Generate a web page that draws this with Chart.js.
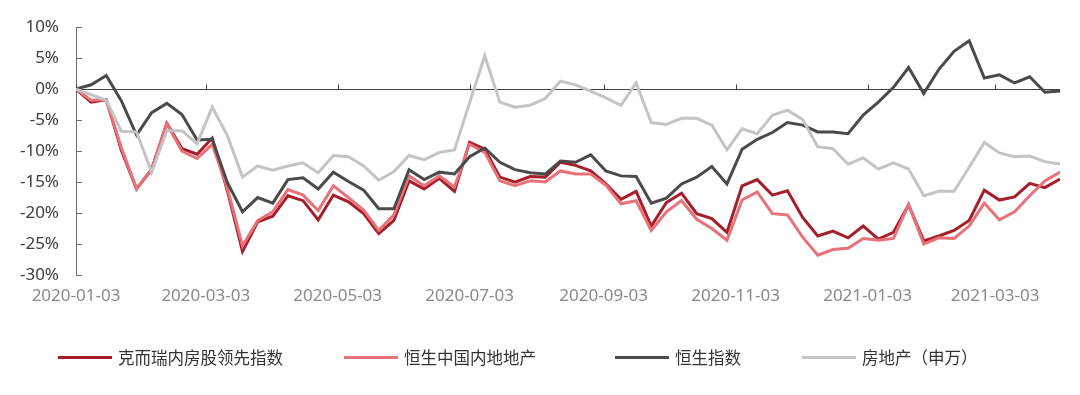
<!DOCTYPE html>
<html>
<head>
<meta charset="utf-8">
<script src="https://cdn.jsdelivr.net/npm/chart.js@4.4.1/dist/chart.umd.min.js"></script>
<style>
  html, body { margin: 0; padding: 0; background: #fff; }
  #wrap { position: relative; width: 1080px; height: 395px; overflow: hidden; }
  #chart { position: absolute; left: 0; top: 0; }
  .lg-item { position: absolute; top: 345px; height: 24px; display: flex; align-items: center;
             font-family: "Noto Sans CJK SC", "Noto Sans", sans-serif; font-size: 16.5px; color: #333; white-space: nowrap; }
  .lg-swatch { width: 54px; height: 3px; margin-right: 6px; }
  .lg-item:nth-child(1) { left: 58px; }
  .lg-item:nth-child(2) { left: 344px; }
  .lg-item:nth-child(3) { left: 615px; }
  .lg-item:nth-child(4) { left: 802px; }
</style>
</head>
<body>
<div id="wrap">
  <canvas id="chart" width="1080" height="395"></canvas>
  <div id="legend"></div>
</div>
<script>
// ---- data ----
const dates = [
  '2020-01-03','2020-01-10','2020-01-17','2020-01-24','2020-01-31','2020-02-07','2020-02-14','2020-02-21','2020-02-28',
  '2020-03-06','2020-03-13','2020-03-20','2020-03-27','2020-04-03','2020-04-10','2020-04-17','2020-04-24',
  '2020-05-01','2020-05-08','2020-05-15','2020-05-22','2020-05-29','2020-06-05','2020-06-12','2020-06-19','2020-06-26',
  '2020-07-03','2020-07-10','2020-07-17','2020-07-24','2020-07-31','2020-08-07','2020-08-14','2020-08-21','2020-08-28',
  '2020-09-04','2020-09-11','2020-09-18','2020-09-25','2020-10-02','2020-10-09','2020-10-16','2020-10-23','2020-10-30',
  '2020-11-06','2020-11-13','2020-11-20','2020-11-27','2020-12-04','2020-12-11','2020-12-18','2020-12-25',
  '2021-01-01','2021-01-08','2021-01-15','2021-01-22','2021-01-29','2021-02-05','2021-02-12','2021-02-19','2021-02-26',
  '2021-03-05','2021-03-12','2021-03-19','2021-03-26','2021-04-02'
];
const tickLabels = ['2020-01-03','2020-03-03','2020-05-03','2020-07-03','2020-09-03','2020-11-03','2021-01-03','2021-03-03'];
const yTicks = [10, 5, 0, -5, -10, -15, -20, -25, -30];
const seriesNames = ['克而瑞内房股领先指数', '恒生中国内地地产', '恒生指数', '房地产（申万）'];

const creLeading = [0,-2.1,-1.7,-9.9,-16.1,-12.9,-5.5,-9.6,-10.5,-7.9,-16.4,-26.2,-21.4,-20.5,-17.2,-18.0,-21.1,-17.1,-18.2,-20.1,
  -23.3,-21.2,-14.8,-16.1,-14.4,-16.5,-8.6,-9.7,-14.2,-15.0,-14.1,-14.2,-11.8,-12.3,-13.2,-15.3,-17.8,-16.5,-22.1,-18.3,
  -16.8,-20.1,-20.9,-23.1,-15.6,-14.6,-17.1,-16.4,-20.7,-23.7,-22.9,-24.0,-22.1,-24.2,-23.1,-18.7,-24.5,-23.7,-22.8,-21.2,
  -16.3,-17.9,-17.4,-15.2,-15.9,-14.5];
const hsMainlandProp = [0,-1.8,-1.7,-9.5,-16.1,-13.0,-5.6,-10.0,-11.2,-8.9,-16.0,-25.3,-21.2,-19.8,-16.2,-17.1,-19.6,-15.6,-17.5,-19.5,
  -22.8,-20.3,-14.0,-15.6,-14.0,-15.8,-8.9,-10.2,-14.8,-15.6,-14.8,-15.0,-13.2,-13.7,-13.7,-15.5,-18.5,-18.0,-22.8,-19.8,
  -18.0,-21.0,-22.5,-24.4,-17.9,-16.6,-20.1,-20.3,-23.9,-26.8,-25.9,-25.7,-24.1,-24.4,-24.1,-18.6,-25.0,-24.0,-24.1,-22.1,
  -18.4,-21.1,-19.8,-17.2,-14.8,-13.4];
const hsi = [0,0.7,2.2,-1.9,-7.4,-3.8,-2.3,-4.1,-8.2,-8.1,-15.1,-19.8,-17.5,-18.4,-14.6,-14.3,-16.1,-13.4,-14.9,-16.3,
  -19.3,-19.3,-13.0,-14.6,-13.4,-13.7,-10.9,-9.5,-11.8,-13.0,-13.5,-13.7,-11.6,-11.8,-10.6,-13.2,-14.0,-14.1,-18.4,-17.6,
  -15.3,-14.2,-12.5,-15.3,-9.7,-8.1,-7.0,-5.4,-5.8,-6.9,-6.9,-7.2,-4.2,-2.1,0.3,3.5,-0.7,3.2,6.1,7.8,
  1.8,2.3,1.0,2.0,-0.5,-0.3];
const swProperty = [0,-0.9,-1.8,-6.8,-6.9,-13.4,-6.7,-6.7,-8.8,-2.9,-7.5,-14.2,-12.4,-13.1,-12.4,-11.9,-13.5,-10.7,-10.9,-12.4,
  -14.7,-13.3,-10.7,-11.4,-10.2,-9.8,-2.2,5.4,-2.1,-2.9,-2.6,-1.5,1.3,0.7,-0.3,-1.4,-2.6,1.0,-5.4,-5.7,
  -4.7,-4.7,-5.8,-9.8,-6.4,-7.2,-4.2,-3.4,-4.9,-9.3,-9.6,-12.1,-11.1,-12.9,-11.9,-12.9,-17.2,-16.5,-16.5,-12.6,
  -8.6,-10.3,-10.9,-10.8,-11.7,-12.1];

// ---- helpers ----
const DAY = 86400000;
const t0 = Date.parse(dates[0]);
const dayOf = d => Math.round((Date.parse(d) - t0) / DAY);
const toPoints = vals => vals.map((v, i) => ({ x: dayOf(dates[i]), y: v }));

const colors = ['#A51E2A', '#E8727A', '#4A4A4A', '#C4C4C4'];
const seriesValues = [creLeading, hsMainlandProp, hsi, swProperty];

const datasets = seriesNames.map((name, k) => ({
  label: name,
  data: toPoints(seriesValues[k]),
  borderColor: colors[k],
  backgroundColor: colors[k],
  borderWidth: 3,
  pointRadius: 0,
  tension: 0,
  fill: false,
  order: 4 - k,
  borderJoinStyle: 'miter'
}));

const axisMarks = {
  id: 'axisMarks',
  beforeDatasetsDraw(chart) {
    const { ctx, chartArea, scales } = chart;
    const xs = scales.x, ys = scales.y;
    const y0 = Math.round(ys.getPixelForValue(0)) + 0.5;
    ctx.save();
    ctx.strokeStyle = '#404040';
    ctx.lineWidth = 1;
    ctx.beginPath();
    ctx.moveTo(chartArea.left, y0);
    ctx.lineTo(chartArea.right, y0);
    xs.ticks.forEach(t => {
      const px = Math.round(xs.getPixelForValue(t.value)) + 0.5;
      ctx.moveTo(px, y0);
      ctx.lineTo(px, y0 - 5);
    });
    ctx.stroke();
    ctx.strokeStyle = '#6b6b6b';
    ctx.beginPath();
    ys.ticks.forEach(t => {
      const py = Math.round(ys.getPixelForValue(t.value)) + 0.5;
      ctx.moveTo(chartArea.left, py);
      ctx.lineTo(chartArea.left + 6, py);
    });
    ctx.stroke();
    ctx.restore();
  }
};

const chart = new Chart(document.getElementById('chart'), {
  type: 'line',
  data: { datasets },
  options: {
    responsive: false,
    animation: false,
    layout: { padding: { top: 26, right: 20, left: 0, bottom: 0 } },
    plugins: { legend: { display: false }, tooltip: { enabled: false } },
    scales: {
      x: {
        type: 'linear',
        min: 0,
        max: dayOf(dates[dates.length - 1]),
        afterBuildTicks: s => { s.ticks = tickLabels.map(t => ({ value: dayOf(t) })); },
        afterFit: s => { s.height = 120; },
        border: { display: false },
        grid: { display: false, drawTicks: false },
        ticks: {
          autoSkip: false, maxRotation: 0, padding: 11,
          color: '#8a8a8a',
          font: { family: '"Noto Sans", sans-serif', size: 17 },
          callback: (v, i) => tickLabels[i]
        }
      },
      y: {
        type: 'linear',
        min: -30,
        max: 10,
        afterBuildTicks: s => { s.ticks = yTicks.map(v => ({ value: v })); },
        afterFit: s => { s.width = 76; },
        border: { display: true, color: '#6b6b6b', width: 1 },
        grid: { display: false, drawTicks: false },
        ticks: {
          padding: 17,
          color: '#3d3d3d',
          font: { family: '"Noto Sans", sans-serif', size: 17 },
          callback: v => v + '%'
        }
      }
    }
  },
  plugins: [axisMarks]
});

// ---- legend (built from the chart's datasets) ----
const legend = document.getElementById('legend');
chart.data.datasets.forEach(ds => {
  const item = document.createElement('div');
  item.className = 'lg-item';
  const sw = document.createElement('span');
  sw.className = 'lg-swatch';
  sw.style.background = ds.borderColor;
  const tx = document.createElement('span');
  tx.textContent = ds.label;
  item.appendChild(sw);
  item.appendChild(tx);
  legend.appendChild(item);
});
</script>
</body>
</html>
